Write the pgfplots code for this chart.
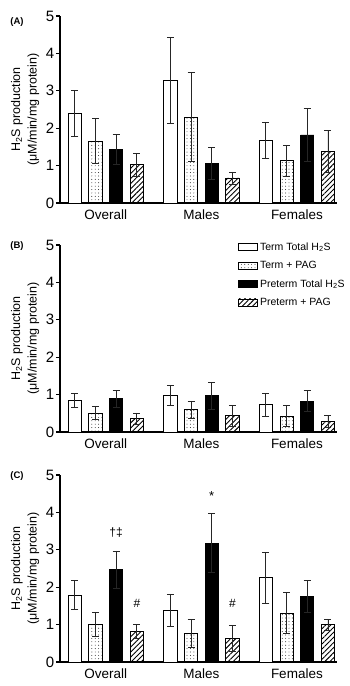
\documentclass[border=0pt]{standalone}
\usepackage{fontspec}
\setmainfont{Liberation Sans}
\usepackage{pgfplots}
\pgfplotsset{compat=1.18}
\usepackage{pgfplotstable}
\usetikzlibrary{patterns.meta}

\pgfplotstableread{
x tt ett tp etp pt ept pp epp
0 2.40 0.61 1.65 0.60 1.43 0.41 1.02 0.31
1 3.27 1.15 2.30 1.20 1.06 0.42 0.67 0.16
2 1.67 0.48 1.13 0.42 1.82 0.71 1.39 0.56
}\dataA
\pgfplotstableread{
x tt ett tp etp pt ept pp epp
0 0.85 0.19 0.51 0.18 0.89 0.22 0.36 0.15
1 0.98 0.26 0.60 0.23 0.97 0.36 0.44 0.28
2 0.73 0.31 0.42 0.28 0.82 0.28 0.28 0.17
}\dataB
\pgfplotstableread{
x tt ett tp etp pt ept pp epp
0 1.79 0.38 1.00 0.32 2.47 0.50 0.82 0.18
1 1.38 0.44 0.77 0.37 3.18 0.79 0.63 0.35
2 2.25 0.68 1.31 0.54 1.75 0.43 1.00 0.15
}\dataC

\tikzset{
 ttstyle/.style={fill=white, draw=black, line width=0.8pt},
 tpstyle/.style={draw=black, line width=0.8pt, pattern={Dots[distance=3.4pt, radius=0.45pt]}},
 ptstyle/.style={fill=black, draw=black, line width=0.8pt},
 ppstyle/.style={draw=black, line width=0.8pt, pattern={Lines[angle=45, distance=3.6pt, line width=0.9pt]}},
}

\pgfplotsset{panel/.style={
 scale only axis, width=277pt, height=187pt,
 xmin=-0.48, xmax=2.42, ymin=0, ymax=5,
 ytick={0,1,2,3,4,5}, xtick={0,1,2}, xticklabels={Overall,Males,Females},
 axis lines*=left, axis line style={line width=1.3pt},
 ytick style={line width=1.1pt, black}, major tick length=4pt, tick align=outside,
 xtick style={draw=none},
 ybar, bar width=0.139,
 /pgf/number format/assume math mode=true,
 yticklabel style={font=\fontsize{15}{17}\selectfont, inner sep=1.5pt},
 xticklabel style={font=\fontsize{13.5}{15}\selectfont, yshift=1pt},
 ylabel={H\textsubscript{2}S production\\(μM/min/mg protein)},
 ylabel style={align=center, font=\fontsize{12.5}{16.5}\selectfont, at={(rel axis cs:-0.126,0.5)}, anchor=center},
 clip=false,
 error bars/y dir=both, error bars/y explicit,
 error bars/error bar style={line width=0.8pt, black!85},
 error bars/error mark options={rotate=90, mark size=3.5pt, line width=0.8pt, black!85},
}}

\begin{document}
\begin{tikzpicture}
\useasboundingbox (-60pt,-24pt) rectangle (290pt,662pt);

% Panel A
\begin{axis}[panel, at={(0pt,459pt)}, anchor=south west]
\addplot[ttstyle, bar shift=-0.325] table[x=x, y=tt, y error=ett] {\dataA};
\addplot[tpstyle, bar shift=-0.108] table[x=x, y=tp, y error=etp] {\dataA};
\addplot[ptstyle, bar shift=0.108] table[x=x, y=pt, y error=ept] {\dataA};
\addplot[ppstyle, bar shift=0.325] table[x=x, y=pp, y error=epp] {\dataA};
\node[font=\bfseries\fontsize{9.5}{11}\selectfont] at (rel axis cs:-0.155,0.968) {(A)};
\end{axis}

% Panel B
\begin{axis}[panel, at={(0pt,230pt)}, anchor=south west,
 legend style={at={(rel axis cs:0.643,1.025)}, anchor=north west, draw=none, fill=none,
   font=\fontsize{10.5}{12}\selectfont, row sep=5.5pt, inner sep=0pt, cells={anchor=west}},
 legend image code/.code={\draw[#1] (0pt,-3.5pt) rectangle (19pt,3.5pt);},
]
\addplot[ttstyle, bar shift=-0.325] table[x=x, y=tt, y error=ett] {\dataB};
\addlegendentry{Term Total H\textsubscript{2}S}
\addplot[tpstyle, bar shift=-0.108] table[x=x, y=tp, y error=etp] {\dataB};
\addlegendentry{Term + PAG}
\addplot[ptstyle, bar shift=0.108] table[x=x, y=pt, y error=ept] {\dataB};
\addlegendentry{Preterm Total H\textsubscript{2}S}
\addplot[ppstyle, bar shift=0.325] table[x=x, y=pp, y error=epp] {\dataB};
\addlegendentry{Preterm + PAG}
\node[font=\bfseries\fontsize{9.5}{11}\selectfont] at (rel axis cs:-0.155,0.992) {(B)};
\end{axis}

% Panel C
\begin{axis}[panel, at={(0pt,0pt)}, anchor=south west]
\addplot[ttstyle, bar shift=-0.325] table[x=x, y=tt, y error=ett] {\dataC};
\addplot[tpstyle, bar shift=-0.108] table[x=x, y=tp, y error=etp] {\dataC};
\addplot[ptstyle, bar shift=0.108] table[x=x, y=pt, y error=ept] {\dataC};
\addplot[ppstyle, bar shift=0.325] table[x=x, y=pp, y error=epp] {\dataC};
\node[font=\bfseries\fontsize{9.5}{11}\selectfont] at (rel axis cs:-0.155,0.992) {(C)};
\node[font=\fontsize{12}{14}\selectfont] at (axis cs:0.108,3.47) {†‡};
\node[font=\fontsize{12}{14}\selectfont] at (axis cs:0.325,1.56) {\#};
\node[font=\fontsize{13}{14}\selectfont] at (axis cs:1.108,4.45) {*};
\node[font=\fontsize{12}{14}\selectfont] at (axis cs:1.325,1.56) {\#};
\end{axis}
\end{tikzpicture}
\end{document}
